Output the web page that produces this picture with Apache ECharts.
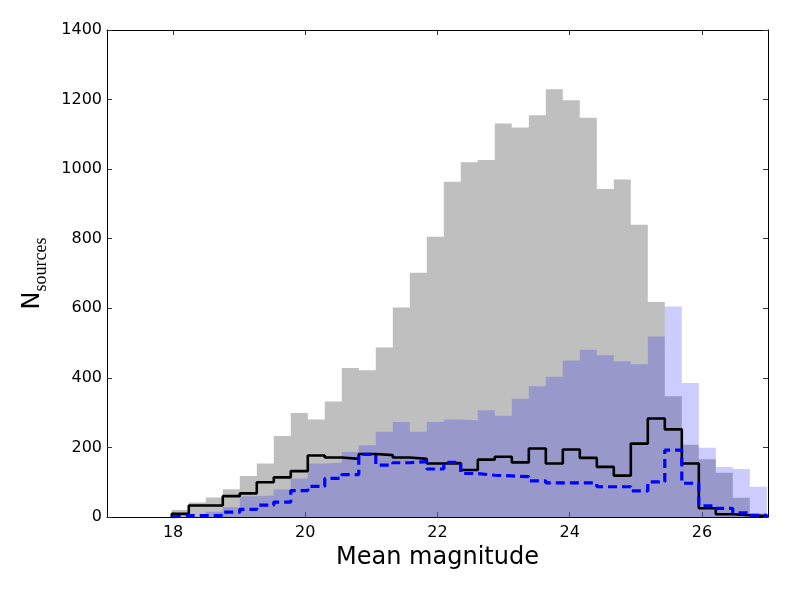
<!DOCTYPE html>
<html>
<head>
<meta charset="utf-8">
<script src="https://cdn.jsdelivr.net/npm/echarts@6/dist/echarts.min.js"></script>
<style>
html,body{margin:0;padding:0;background:#fff;}
#chart{width:789px;height:592px;}
</style>
</head>
<body>
<div id="chart"></div>
<script>
// Histogram binning (left edge of first bin and bin width, in magnitudes)
const binStart = 17.98;
const binWidth = 0.2572;

// Counts per bin (35 bins)
const allSources = [20, 42, 56, 80, 118, 154, 233, 299, 280, 332, 428, 422, 487, 602, 702, 806, 964, 1020, 1026, 1131, 1120, 1155, 1230, 1198, 1148, 943, 970, 840, 618, 347, 208, 166, 127, 55, 10];
const blueSources = [0, 3, 15, 28, 60, 62, 79, 111, 154, 157, 187, 206, 245, 273, 245, 273, 280, 278, 307, 291, 340, 376, 403, 450, 481, 465, 448, 439, 519, 605, 385, 199, 144, 138, 87];
const blackStep = [9, 33, 33, 60, 68, 100, 114, 132, 177, 171, 167, 181, 178, 171, 167, 154, 155, 135, 165, 173, 157, 197, 154, 194, 170, 144, 119, 211, 283, 252, 154, 25, 8, 5, 3];
const blueStep = [4, 4, 4, 14, 22, 34, 43, 76, 88, 111, 122, 180, 149, 156, 159, 138, 157, 125, 120, 118, 116, 104, 98, 98, 98, 87, 87, 75, 101, 192, 97, 32, 25, 12, 5];

const xTicks = [18, 20, 22, 24, 26];

function stepPoints(counts, closed) {
  const pts = [];
  if (closed) pts.push([binStart, 0]);
  for (let i = 0; i < counts.length; i++) pts.push([binStart + i * binWidth, counts[i]]);
  const endX = binStart + counts.length * binWidth;
  pts.push([endX, counts[counts.length - 1]]);
  if (closed) pts.push([endX, 0]);
  return pts;
}

const chart = echarts.init(document.getElementById('chart'), null, {renderer: 'canvas'});

const tickStyle = {show: true, inside: true, length: 5, lineStyle: {color: '#333', width: 1}};
const lineStyleAxis = {show: true, onZero: false, lineStyle: {color: '#000', width: 1}};

chart.setOption({
  backgroundColor: '#fff',
  animation: false,
  grid: {left: 107, right: 21, top: 30, bottom: 75, containLabel: false},
  xAxis: [{
    type: 'value', min: 17, max: 27, position: 'bottom',
    axisLine: lineStyleAxis,
    axisTick: Object.assign({}, tickStyle, {customValues: xTicks}),
    axisLabel: {customValues: xTicks, fontSize: 16, color: '#000', fontFamily: 'DejaVu Sans', margin: 8,
      formatter: function (v) { return String(v); }},
    splitLine: {show: false},
    name: 'Mean magnitude', nameLocation: 'middle', nameGap: 28,
    nameTextStyle: {fontSize: 24, color: '#000', fontFamily: 'DejaVu Sans'}
  }, {
    type: 'value', min: 17, max: 27, position: 'top',
    axisLine: lineStyleAxis,
    axisTick: Object.assign({}, tickStyle, {customValues: xTicks}),
    axisLabel: {show: false},
    splitLine: {show: false}
  }],
  yAxis: [{
    type: 'value', min: 0, max: 1400, interval: 200, position: 'left',
    axisLine: lineStyleAxis,
    axisTick: tickStyle,
    axisLabel: {fontSize: 16, color: '#000', fontFamily: 'DejaVu Sans', margin: 5,
      formatter: function (v) { return String(v); }},
    splitLine: {show: false},
    name: '{n|N}{s|sources}', nameLocation: 'middle', nameRotate: 90, nameGap: 45,
    nameTextStyle: {
      rich: {
        n: {fontSize: 24, fontFamily: 'DejaVu Sans', color: '#000', lineHeight: 30, verticalAlign: 'top'},
        s: {fontSize: 18, fontFamily: 'Liberation Serif', color: '#000', lineHeight: 24, verticalAlign: 'bottom'}
      }
    }
  }, {
    type: 'value', min: 0, max: 1400, interval: 200, position: 'right',
    axisLine: lineStyleAxis,
    axisTick: tickStyle,
    axisLabel: {show: false},
    splitLine: {show: false}
  }],
  series: [
    {
      name: 'All', type: 'line', step: 'end', symbol: 'none', z: 1,
      data: stepPoints(allSources, true),
      lineStyle: {width: 0},
      areaStyle: {color: 'rgba(128,128,128,0.5)', origin: 0, opacity: 1}
    },
    {
      name: 'Blue', type: 'line', step: 'end', symbol: 'none', z: 2,
      data: stepPoints(blueSources, true),
      lineStyle: {width: 0},
      areaStyle: {color: 'rgba(0,0,255,0.2)', origin: 0, opacity: 1}
    },
    {
      name: 'Black', type: 'line', step: 'end', symbol: 'none', z: 3,
      data: stepPoints(blackStep, true),
      lineStyle: {color: '#000', width: 2.6}
    },
    {
      name: 'Dashed', type: 'line', step: 'end', symbol: 'none', z: 4,
      data: stepPoints(blueStep, true),
      lineStyle: {color: '#0000ff', width: 3.2, type: [9, 5]}
    }
  ]
});
</script>
</body>
</html>
